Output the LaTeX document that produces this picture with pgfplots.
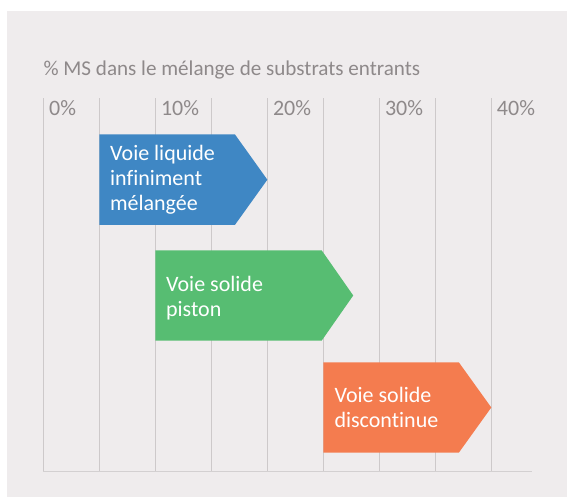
\documentclass[border=0pt]{standalone}
\usepackage{fontspec}
\setmainfont{Carlito}[Ligatures=NoCommon]
\usepackage{pgfplots}
\pgfplotsset{compat=1.18}
\definecolor{bg}{HTML}{EFECED}
\definecolor{gridc}{HTML}{CDC9CA}
\definecolor{axc}{HTML}{D3D0D1}
\definecolor{txt}{HTML}{8E898A}
\definecolor{cblue}{HTML}{3F87C4}
\definecolor{cgreen}{HTML}{57BD72}
\definecolor{corange}{HTML}{F47C4F}
\begin{document}
\begin{tikzpicture}[x=1pt,y=1pt]
\fill[white] (-43.4,-25.3) rectangle (523.6,471.7);
\fill[bg] (-36.2,-25.3) rectangle (523.6,460.9);
\begin{axis}[
  at={(0,0)}, anchor=south west,
  scale only axis, width=488.2pt, height=374pt,
  xmin=0, xmax=43.6, ymin=0, ymax=374,
  axis line style={draw=none},
  clip=false,
  xtick={0,10,20,30,40},
  xticklabels={0\%,10\%,20\%,30\%,40\%},
  minor x tick num=1,
  ytick=\empty,
  major tick length=0pt, minor tick length=0pt,
  xmajorgrids, xminorgrids,
  major grid style={gridc, line width=0.8pt},
  minor grid style={gridc, line width=0.8pt},
  xticklabel pos=upper,
  xticklabel style={anchor=north west, inner sep=0pt, xshift=5.5pt, yshift=-3pt, text=txt, font=\fontsize{22}{26}\selectfont},
]
\draw[axc, line width=1.6pt] (axis cs:0,0) -- (axis cs:43.6,0);
\addplot[fill=cblue, draw=none] coordinates {(5,246.7) (5,337.4) (17.1,337.4) (20,292) (17.1,246.7)} -- cycle;
\addplot[fill=cgreen, draw=none] coordinates {(10,131.0) (10,221.4) (24.85,221.4) (27.67,176.2) (24.85,131.0)} -- cycle;
\addplot[fill=corange, draw=none] coordinates {(25,19.0) (25,109.4) (37.1,109.4) (40,64.2) (37.1,19.0)} -- cycle;
\node[anchor=west, inner sep=0pt, xshift=10.5pt, text=white, align=left, font=\fontsize{22}{25}\selectfont] at (axis cs:5,292) {Voie liquide\\infiniment\\mélangée};
\node[anchor=west, inner sep=0pt, xshift=10.5pt, text=white, align=left, font=\fontsize{22}{25}\selectfont] at (axis cs:10,174) {Voie solide\\piston};
\node[anchor=west, inner sep=0pt, xshift=11pt, text=white, align=left, font=\fontsize{22}{25}\selectfont] at (axis cs:25,64.5) {Voie solide\\discontinue};
\node[anchor=base west, inner sep=0pt, text=txt, font=\fontsize{21.1}{25}\selectfont] at (axis cs:0,374) [yshift=22.5pt] {\% MS dans le mélange de substrats entrants};
\end{axis}
\pgfresetboundingbox
\useasboundingbox (-43.4,-25.3) rectangle (523.6,471.7);
\end{tikzpicture}
\end{document}
